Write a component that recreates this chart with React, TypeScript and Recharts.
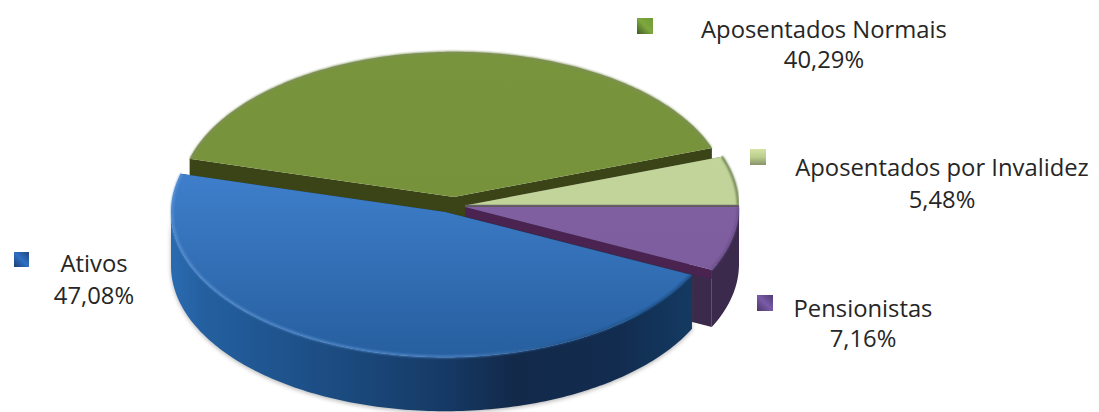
import React from 'react'
import { PieChart, Pie } from 'recharts'

const categories = ['Aposentados Normais', 'Aposentados por Invalidez', 'Pensionistas', 'Ativos']
const shares = [40.29, 5.48, 7.16, 47.08]

const data = categories.map((name, i) => ({ name, value: shares[i] }))

const WIDTH = 1099
const HEIGHT = 412
const CX = 460
const CY = 207
const RADIUS = 274
const TILT = 0.53 // vertical squash of the disc
const FONT = '"Open Sans", sans-serif'

interface SliceStyle {
  dx: number
  dy: number
  depth: number
  top: [string, string]
  cut: string
  cutBand?: string
  wall: [number, string][]
  rim: [number, string][]
  seam?: string
  shadow?: boolean
}

const sliceStyles: Record<string, SliceStyle> = {
  'Aposentados Normais': {
    dx: -6, dy: -10, depth: 50,
    top: ['#78943c', '#75903a'],
    cut: '#3a4416',
    wall: [[0, '#3a4416']],
    rim: [[0, '#7f8f5c']],
  },
  'Aposentados por Invalidez': {
    dx: 5, dy: -1.5, depth: 20,
    top: ['#c4d69c', '#bed196'],
    cut: '#5c5a58',
    wall: [[0, '#4f6137']],
    rim: [[0, '#5f7345']],
    seam: '#65606a',
  },
  Pensionistas: {
    dx: 5, dy: 0, depth: 57,
    top: ['#8465a6', '#7b5a9a'],
    cut: '#3b2a4c',
    cutBand: '#4a2350',
    wall: [[0, '#3b2a4c']],
    rim: [[0, '#6a4e8a']],
  },
  Ativos: {
    dx: -15, dy: 5, depth: 54,
    top: ['#3d7dc9', '#275f9f'],
    cut: '#12365f',
    wall: [
      [0, '#2a6bb0'],
      [0.06, '#2460a0'],
      [0.32, '#1b4b80'],
      [0.52, '#163a66'],
      [0.66, '#12294a'],
      [0.86, '#122c4f'],
      [1, '#143a62'],
    ],
    rim: [
      [0, '#5b93d4'],
      [0.55, '#4f86c8'],
      [0.75, '#23558c'],
      [1, '#1c4a7c'],
    ],
    shadow: true,
  },
}

interface LegendMark {
  box: [number, number, number]
  textX: number
  lines: [number, number]
  colors: [string, string, string]
  flip?: boolean
}

const legendMarks: Record<string, LegendMark> = {
  'Aposentados Normais': { box: [637, 18, 16], textX: 824, lines: [38, 68], colors: ['#6f9a38', '#7da83e', '#3f5a22'], flip: true },
  'Aposentados por Invalidez': { box: [750, 149, 16], textX: 942, lines: [176, 208], colors: ['#d3e3a4', '#bccd8c', '#87946a'] },
  Pensionistas: { box: [757, 295, 16], textX: 863, lines: [317, 347], colors: ['#4f3d70', '#7a5aa8', '#4a3866'], flip: true },
  Ativos: { box: [14, 252, 15], textX: 94, lines: [272, 304], colors: ['#1f4680', '#2f70c4', '#1c3f70'], flip: true },
}

// point on the tilted disc, t in degrees clockwise from 3 o'clock
const project = (cx: number, cy: number, r: number, t: number, drop = 0): [number, number] => {
  const rad = (t * Math.PI) / 180
  return [cx + r * Math.cos(rad), cy + r * TILT * Math.sin(rad) + drop]
}

const arcPoints = (cx: number, cy: number, r: number, from: number, to: number, drop = 0) => {
  const steps = Math.max(2, Math.ceil(Math.abs(to - from)))
  const pts: [number, number][] = []
  for (let i = 0; i <= steps; i++) {
    pts.push(project(cx, cy, r, from + ((to - from) * i) / steps, drop))
  }
  return pts
}

const toPath = (pts: [number, number][], close = true) =>
  pts.map((p, i) => `${i ? 'L' : 'M'}${p[0].toFixed(2)} ${p[1].toFixed(2)}`).join(' ') + (close ? ' Z' : '')

// part of the slice's arc that faces the viewer
const frontRange = (t0: number, t1: number): [number, number] | null => {
  for (const [a, b] of [[0, 180], [360, 540]]) {
    const from = Math.max(t0, a)
    const to = Math.min(t1, b)
    if (to > from) return [from, to]
  }
  return null
}

function Slice3D(props: any) {
  const { cx, cy, outerRadius, startAngle, endAngle, payload, name } = props
  const key = payload?.name ?? name
  const st = sliceStyles[key]
  const t0 = Math.min(-startAngle, -endAngle)
  const t1 = Math.max(-startAngle, -endAngle)
  const x = cx + st.dx
  const y = cy + st.dy
  const id = key.replace(/\s/g, '')
  const r = outerRadius
  const front = frontRange(t0, t1)
  const cutFace = (t: number, depth = st.depth) => {
    const e = project(x, y, r, t)
    return toPath([[x, y], e, [e[0], e[1] + depth], [x, y + depth]])
  }
  const wall = front
    ? toPath([
        ...arcPoints(x, y, r, front[0], front[1]),
        ...arcPoints(x, y, r, front[1], front[0], st.depth),
      ])
    : null

  return (
    <g>
      <defs>
        <linearGradient id={`top-${id}`} gradientUnits="userSpaceOnUse" x1="0" x2="0" y1={y - r * TILT} y2={y + r * TILT}>
          <stop offset={key === 'Ativos' ? 0.4 : 0} stopColor={st.top[0]} />
          <stop offset="1" stopColor={st.top[1]} />
        </linearGradient>
        <linearGradient id={`wall-${id}`} gradientUnits="userSpaceOnUse" x1={x - r} x2={x + r * 0.9} y1="0" y2="0">
          {st.wall.map(([o, c]) => (
            <stop key={o} offset={o} stopColor={c} />
          ))}
        </linearGradient>
        <linearGradient id={`rim-${id}`} gradientUnits="userSpaceOnUse" x1={x - r} x2={x + r * 0.9} y1="0" y2="0">
          {st.rim.map(([o, c]) => (
            <stop key={o} offset={o} stopColor={c} />
          ))}
        </linearGradient>
        <filter id={`soft-${id}`} x="-5%" y="-5%" width="110%" height="110%">
          <feGaussianBlur stdDeviation="0.9" />
        </filter>
        <filter id={`shade-${id}`} x="-5%" y="-5%" width="110%" height="110%">
          <feGaussianBlur stdDeviation="2" />
        </filter>
      </defs>
      {st.shadow && wall && <path d={wall} fill="#4a4a4a" opacity={0.4} transform="translate(0 1.5)" filter={`url(#shade-${id})`} />}
      <path d={cutFace(t0)} fill={st.cut} />
      <path d={cutFace(t1)} fill={st.cut} />
      {st.cutBand && <path d={cutFace(t1, 9)} fill={st.cutBand} />}
      {wall && <path d={wall} fill={`url(#wall-${id})`} />}
      <path d={toPath([[x, y], ...arcPoints(x, y, r, t0, t1)])} fill={`url(#top-${id})`} />
      <path
        d={toPath(arcPoints(x, y, r - 1, t0, t1), false)}
        fill="none"
        stroke={`url(#rim-${id})`}
        strokeWidth={2}
        filter={`url(#soft-${id})`}
      />
      {st.seam && <path d={toPath([[x, y], project(x, y, r, t1)], false)} stroke={st.seam} strokeWidth={1.5} />}
    </g>
  )
}

function LegendLabel(props: any) {
  const key = props.payload?.name ?? props.name
  const mark = legendMarks[key]
  const value = props.payload?.value ?? props.value
  const [bx, by, size] = mark.box
  const id = `mark-${key.replace(/\s/g, '')}`
  const textStyle = { fontFamily: FONT, fontSize: 23.8, fill: '#262626' }
  return (
    <g>
      <defs>
        <linearGradient id={id} x1={mark.flip ? 1 : 0.5} y1="0" x2={mark.flip ? 0 : 0.5} y2="1">
          <stop offset="0" stopColor={mark.colors[0]} />
          <stop offset="0.5" stopColor={mark.colors[1]} />
          <stop offset="1" stopColor={mark.colors[2]} />
        </linearGradient>
      </defs>
      <rect x={bx} y={by} width={size} height={size} fill={`url(#${id})`} />
      <text x={mark.textX} y={mark.lines[0]} textAnchor="middle" style={textStyle}>{key}</text>
      <text x={mark.textX} y={mark.lines[1]} textAnchor="middle" style={textStyle}>
        {`${Number(value).toFixed(2).replace('.', ',')}%`}
      </text>
    </g>
  )
}

export default function App() {
  return (
    <div style={{ position: 'absolute', left: 0, top: 0, width: WIDTH, height: HEIGHT, background: '#fff' }}>
      <PieChart width={WIDTH} height={HEIGHT} margin={{ top: 0, right: 0, bottom: 0, left: 0 }}>
        <Pie
          data={data}
          dataKey="value"
          nameKey="name"
          cx={CX}
          cy={CY}
          innerRadius={0}
          outerRadius={RADIUS}
          startAngle={-195.23}
          endAngle={-555.23}
          paddingAngle={0}
          stroke="none"
          shape={Slice3D}
          label={LegendLabel}
          labelLine={false}
          isAnimationActive={false}
        />
      </PieChart>
    </div>
  )
}
